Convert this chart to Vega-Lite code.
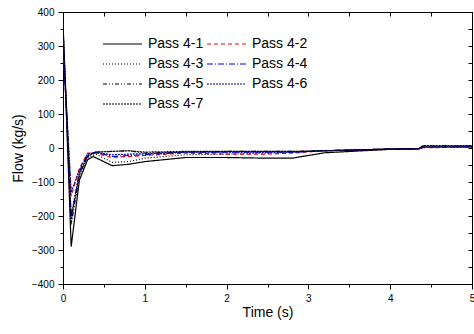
{
  "$schema": "https://vega.github.io/schema/vega-lite/v6.json",
  "width": 409,
  "height": 272,
  "autosize": {"type": "none"},
  "padding": {"left": 63, "top": 12, "right": 2, "bottom": 50},
  "background": "white",
  "config": {
    "font": "Liberation Sans",
    "view": {"stroke": "black", "strokeWidth": 1},
    "axis": {"grid": false, "domainColor": "black", "tickColor": "black", "labelColor": "black", "titleColor": "black", "labelFont": "Liberation Sans", "titleFont": "Liberation Sans", "labelFontSize": 10, "titleFontSize": 14, "titleFontWeight": "normal", "labelPadding": 3},
    "legend": {"orient": "none", "legendX": 39, "legendY": 25, "direction": "horizontal", "columns": 2, "symbolType": "stroke", "symbolSize": 1521, "symbolStrokeWidth": 1.2, "labelFontSize": 14, "labelFont": "Liberation Sans", "labelColor": "black", "clipHeight": 14, "rowPadding": 6, "columnPadding": 2, "labelOffset": 5, "symbolOffset": 0, "padding": 0, "labelLimit": 200}
  },
  "data": {"values": [
    {"s":"Pass 4-1","t":0,"v":370},{"s":"Pass 4-1","t":0.1,"v":-290},{"s":"Pass 4-1","t":0.2,"v":-95},{"s":"Pass 4-1","t":0.3,"v":-35},{"s":"Pass 4-1","t":0.37,"v":-25},{"s":"Pass 4-1","t":0.6,"v":-52},{"s":"Pass 4-1","t":0.8,"v":-48},{"s":"Pass 4-1","t":1.0,"v":-40},{"s":"Pass 4-1","t":1.5,"v":-28},{"s":"Pass 4-1","t":2.0,"v":-28},{"s":"Pass 4-1","t":2.5,"v":-30},{"s":"Pass 4-1","t":2.8,"v":-30},{"s":"Pass 4-1","t":3.2,"v":-14},{"s":"Pass 4-1","t":4.0,"v":-4},{"s":"Pass 4-1","t":4.35,"v":-3},{"s":"Pass 4-1","t":4.4,"v":3},{"s":"Pass 4-1","t":5.0,"v":3},
    {"s":"Pass 4-2","t":0,"v":300},{"s":"Pass 4-2","t":0.1,"v":-142},{"s":"Pass 4-2","t":0.2,"v":-60},{"s":"Pass 4-2","t":0.3,"v":-15},{"s":"Pass 4-2","t":0.4,"v":-15},{"s":"Pass 4-2","t":0.6,"v":-28},{"s":"Pass 4-2","t":0.8,"v":-25},{"s":"Pass 4-2","t":1.0,"v":-22},{"s":"Pass 4-2","t":1.5,"v":-15},{"s":"Pass 4-2","t":2.0,"v":-18},{"s":"Pass 4-2","t":2.5,"v":-18},{"s":"Pass 4-2","t":2.8,"v":-15},{"s":"Pass 4-2","t":3.2,"v":-8},{"s":"Pass 4-2","t":4.0,"v":-4},{"s":"Pass 4-2","t":4.35,"v":-3},{"s":"Pass 4-2","t":4.4,"v":1},{"s":"Pass 4-2","t":5.0,"v":2},
    {"s":"Pass 4-3","t":0,"v":340},{"s":"Pass 4-3","t":0.1,"v":-220},{"s":"Pass 4-3","t":0.2,"v":-85},{"s":"Pass 4-3","t":0.3,"v":-30},{"s":"Pass 4-3","t":0.4,"v":-18},{"s":"Pass 4-3","t":0.6,"v":-42},{"s":"Pass 4-3","t":0.8,"v":-40},{"s":"Pass 4-3","t":1.0,"v":-30},{"s":"Pass 4-3","t":1.5,"v":-20},{"s":"Pass 4-3","t":2.0,"v":-18},{"s":"Pass 4-3","t":2.5,"v":-15},{"s":"Pass 4-3","t":2.8,"v":-13},{"s":"Pass 4-3","t":3.2,"v":-8},{"s":"Pass 4-3","t":4.0,"v":-3},{"s":"Pass 4-3","t":4.35,"v":-2},{"s":"Pass 4-3","t":4.4,"v":4},{"s":"Pass 4-3","t":5.0,"v":5},
    {"s":"Pass 4-4","t":0,"v":330},{"s":"Pass 4-4","t":0.1,"v":-208},{"s":"Pass 4-4","t":0.2,"v":-70},{"s":"Pass 4-4","t":0.3,"v":-20},{"s":"Pass 4-4","t":0.4,"v":-12},{"s":"Pass 4-4","t":0.6,"v":-25},{"s":"Pass 4-4","t":0.8,"v":-22},{"s":"Pass 4-4","t":1.0,"v":-20},{"s":"Pass 4-4","t":1.5,"v":-12},{"s":"Pass 4-4","t":2.0,"v":-12},{"s":"Pass 4-4","t":2.5,"v":-12},{"s":"Pass 4-4","t":2.8,"v":-12},{"s":"Pass 4-4","t":3.2,"v":-8},{"s":"Pass 4-4","t":4.0,"v":-3},{"s":"Pass 4-4","t":4.35,"v":-2},{"s":"Pass 4-4","t":4.4,"v":2},{"s":"Pass 4-4","t":5.0,"v":4},
    {"s":"Pass 4-5","t":0,"v":350},{"s":"Pass 4-5","t":0.1,"v":-225},{"s":"Pass 4-5","t":0.2,"v":-80},{"s":"Pass 4-5","t":0.3,"v":-25},{"s":"Pass 4-5","t":0.4,"v":-12},{"s":"Pass 4-5","t":0.6,"v":-10},{"s":"Pass 4-5","t":0.8,"v":-8},{"s":"Pass 4-5","t":1.0,"v":-15},{"s":"Pass 4-5","t":1.5,"v":-12},{"s":"Pass 4-5","t":2.0,"v":-10},{"s":"Pass 4-5","t":2.5,"v":-10},{"s":"Pass 4-5","t":2.8,"v":-10},{"s":"Pass 4-5","t":3.2,"v":-8},{"s":"Pass 4-5","t":4.0,"v":-3},{"s":"Pass 4-5","t":4.35,"v":-2},{"s":"Pass 4-5","t":4.4,"v":6},{"s":"Pass 4-5","t":5.0,"v":6},
    {"s":"Pass 4-6","t":0,"v":310},{"s":"Pass 4-6","t":0.1,"v":-130},{"s":"Pass 4-6","t":0.2,"v":-65},{"s":"Pass 4-6","t":0.3,"v":-18},{"s":"Pass 4-6","t":0.4,"v":-13},{"s":"Pass 4-6","t":0.6,"v":-20},{"s":"Pass 4-6","t":0.8,"v":-18},{"s":"Pass 4-6","t":1.0,"v":-17},{"s":"Pass 4-6","t":1.5,"v":-12},{"s":"Pass 4-6","t":2.0,"v":-12},{"s":"Pass 4-6","t":2.5,"v":-12},{"s":"Pass 4-6","t":2.8,"v":-12},{"s":"Pass 4-6","t":3.2,"v":-8},{"s":"Pass 4-6","t":4.0,"v":-3},{"s":"Pass 4-6","t":4.35,"v":-2},{"s":"Pass 4-6","t":4.4,"v":3},{"s":"Pass 4-6","t":5.0,"v":3},
    {"s":"Pass 4-7","t":0,"v":360},{"s":"Pass 4-7","t":0.1,"v":-200},{"s":"Pass 4-7","t":0.2,"v":-75},{"s":"Pass 4-7","t":0.3,"v":-25},{"s":"Pass 4-7","t":0.4,"v":-12},{"s":"Pass 4-7","t":0.6,"v":-10},{"s":"Pass 4-7","t":0.8,"v":-8},{"s":"Pass 4-7","t":1.0,"v":-12},{"s":"Pass 4-7","t":1.5,"v":-10},{"s":"Pass 4-7","t":2.0,"v":-10},{"s":"Pass 4-7","t":2.5,"v":-10},{"s":"Pass 4-7","t":2.8,"v":-10},{"s":"Pass 4-7","t":3.2,"v":-8},{"s":"Pass 4-7","t":4.0,"v":-3},{"s":"Pass 4-7","t":4.35,"v":-2},{"s":"Pass 4-7","t":4.4,"v":7},{"s":"Pass 4-7","t":5.0,"v":7}
  ]},
  "layer": [
    {
      "mark": {"type": "line", "strokeWidth": 1.2, "clip": true},
      "encoding": {
        "x": {"field": "t", "type": "quantitative", "scale": {"domain": [0, 5], "nice": false},
          "axis": {"orient": "bottom", "title": "Time (s)", "titlePadding": 2, "values": [0,0.5,1,1.5,2,2.5,3,3.5,4,4.5,5], "labelExpr": "datum.value % 1 === 0 ? format(datum.value, 'd') : ''", "tickSize": {"condition": {"test": "datum.value % 1 === 0", "value": 5}, "value": 3}, "labelPadding": 4, "labelFlush": false, "labelOverlap": false}},
        "y": {"field": "v", "type": "quantitative", "scale": {"domain": [-400, 400], "nice": false},
          "axis": {"orient": "left", "title": "Flow (kg/s)", "titlePadding": 6, "values": [-400,-350,-300,-250,-200,-150,-100,-50,0,50,100,150,200,250,300,350,400], "labelExpr": "datum.value % 100 === 0 ? datum.label : ''", "tickSize": {"condition": {"test": "datum.value % 100 === 0", "value": 5}, "value": 3}, "labelPadding": 4, "labelFlush": false, "labelOverlap": false}},
        "color": {"field": "s", "type": "nominal", "title": null,
          "scale": {"domain": ["Pass 4-1","Pass 4-2","Pass 4-3","Pass 4-4","Pass 4-5","Pass 4-6","Pass 4-7"], "range": ["#000000","#ff0000","#000000","#0000ff","#000000","#000099","#000000"]}},
        "strokeDash": {"field": "s", "type": "nominal", "title": null,
          "scale": {"domain": ["Pass 4-1","Pass 4-2","Pass 4-3","Pass 4-4","Pass 4-5","Pass 4-6","Pass 4-7"], "range": [[1,0],[4,3],[1,2],[6,2,1,2],[4,2,1,2,1,2],[2,1],[2,1]]}}
      }
    },
    {
      "mark": {"type": "line", "opacity": 0},
      "encoding": {
        "x": {"field": "t", "type": "quantitative",
          "axis": {"orient": "top", "title": null, "labels": false, "values": [0,0.5,1,1.5,2,2.5,3,3.5,4,4.5,5], "tickSize": -4}},
        "y": {"field": "v", "type": "quantitative",
          "axis": {"orient": "right", "title": null, "labels": false, "values": [-400,-350,-300,-250,-200,-150,-100,-50,0,50,100,150,200,250,300,350,400], "tickSize": -4}},
        "detail": {"field": "s"}
      }
    }
  ],
  "resolve": {"axis": {"x": "independent", "y": "independent"}}
}
